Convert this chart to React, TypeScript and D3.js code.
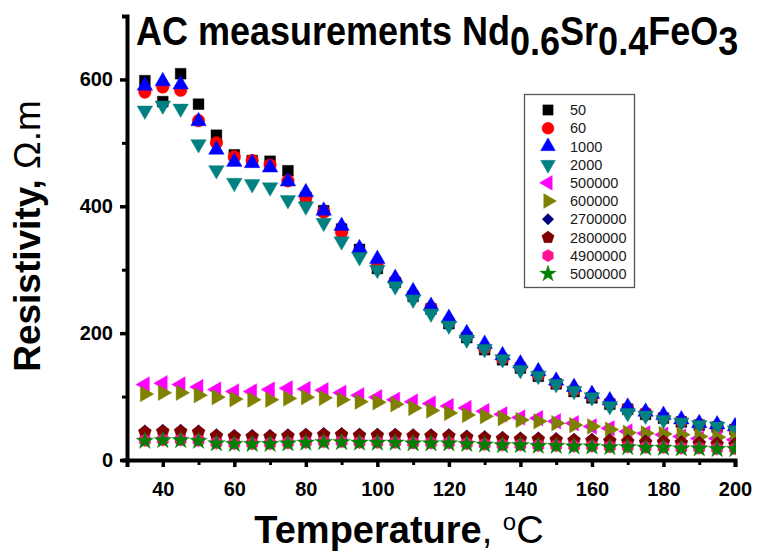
import React, { useEffect, useRef } from "react";
import * as d3 from "d3";

const temperatures = [35, 40, 45, 50, 55, 60, 65, 70, 75, 80, 85, 90, 95, 100, 105, 110, 115, 120, 125, 130, 135, 140, 145, 150, 155, 160, 165, 170, 175, 180, 185, 190, 195, 200];

const seriesNames = ["50", "60", "1000", "2000", "500000", "600000", "2700000", "2800000", "4900000", "5000000"];
const seriesColors = ["#000000", "#ff0000", "#0000ff", "#008080", "#ff00ff", "#808000", "#000080", "#800000", "#ff1493", "#008000"];
const seriesShapes = ["square", "circle", "up", "down", "left", "right", "diamond", "pentagon", "hexagon", "star"];

const r50 = [598, 565, 609, 561, 512, 481, 472, 471, 456, 414, 393, 364, 332, 302, 280, 258, 238, 215, 193, 174, 158, 145, 132, 120, 108, 98, 88, 80, 72, 66, 60, 55, 52, 48];
const r60 = [580, 588, 583, 535, 500, 478, 472, 465, 440, 414, 391, 359, 328, 305, 282, 260, 240, 217, 195, 176, 160, 146, 134, 121, 110, 100, 90, 81, 74, 67, 61, 56, 53, 49];
const r1000 = [590, 597, 592, 534, 489, 470, 468, 461, 439, 422, 393, 369, 334, 317, 287, 266, 243, 224, 200, 183, 165, 152, 140, 125, 115, 104, 94, 84, 76, 71, 64, 58, 56, 53];
const r2000 = [551, 559, 554, 498, 457, 437, 435, 430, 410, 400, 374, 345, 320, 300, 274, 253, 231, 212, 190, 175, 159, 142, 133, 120, 109, 99, 85, 74, 70, 63, 59, 55, 53, 47];
const r500000 = [119, 121, 119, 115, 111, 108, 108, 111, 113, 112, 110, 106, 102, 99, 95, 92, 89, 85, 82, 77, 72, 67, 66, 61, 58, 53, 50, 45, 42, 40, 37, 34, 34, 32];
const r600000 = [104, 106, 106, 102, 99, 96, 95, 95, 97, 99, 98, 95, 92, 91, 88, 82, 78, 74, 71, 69, 66, 63, 61, 58, 55, 53, 48, 43, 42, 41, 40, 37, 36, 34];
const r2700000 = [46, 47, 47, 46, 40, 39, 39, 39, 40, 41, 42, 42, 41, 41, 41, 40, 40, 40, 38, 37, 36, 35, 35, 34, 33, 33, 32, 31, 30, 30, 29, 28, 27, 26];
const r2800000 = [44, 45, 45, 44, 38, 37, 37, 37, 38, 39, 40, 40, 39, 39, 39, 38, 38, 38, 36, 35, 34, 33, 33, 32, 31, 31, 30, 29, 28, 28, 27, 26, 25, 24];
const r4900000 = [31, 32, 32, 31, 27, 26, 26, 26, 27, 28, 29, 29, 28, 28, 28, 27, 27, 27, 26, 25, 24, 24, 23, 23, 22, 22, 21, 21, 20, 20, 19, 19, 18, 18];
const r5000000 = [30, 31, 31, 30, 26, 25, 25, 25, 26, 27, 28, 28, 27, 27, 27, 26, 26, 26, 25, 24, 23, 23, 22, 22, 21, 21, 20, 20, 19, 19, 18, 18, 17, 17];

const seriesValues = [r50, r60, r1000, r2000, r500000, r600000, r2700000, r2800000, r4900000, r5000000];

const xMajorTicks = [40, 60, 80, 100, 120, 140, 160, 180, 200];
const xMinorTicks = [30, 50, 70, 90, 110, 130, 150, 170, 190];
const yMajorTicks = [0, 200, 400, 600];
const yMinorTicks = [100, 300, 500];

const W = 767;
const H = 552;
const M = { left: 127, right: 735, top: 16, bottom: 460 };

function polygonPath(n: number, r: number, startAngle: number) {
  const pts: [number, number][] = [];
  for (let i = 0; i < n; i++) {
    const a = startAngle + (i * 2 * Math.PI) / n;
    pts.push([r * Math.cos(a), r * Math.sin(a)]);
  }
  return "M" + pts.map((p) => p[0].toFixed(2) + "," + p[1].toFixed(2)).join("L") + "Z";
}

function markerPath(shape: string): { d: string; rot: number } {
  switch (shape) {
    case "square":
      return { d: d3.symbol().type(d3.symbolSquare).size(118)()!, rot: 0 };
    case "circle":
      return { d: d3.symbol().type(d3.symbolCircle).size(125)()!, rot: 0 };
    case "up":
      return { d: d3.symbol().type(d3.symbolTriangle).size(105)()!, rot: 0 };
    case "down":
      return { d: d3.symbol().type(d3.symbolTriangle).size(105)()!, rot: 180 };
    case "left":
      return { d: d3.symbol().type(d3.symbolTriangle).size(105)()!, rot: -90 };
    case "right":
      return { d: d3.symbol().type(d3.symbolTriangle).size(105)()!, rot: 90 };
    case "diamond":
      return { d: d3.symbol().type(d3.symbolDiamond2).size(95)()!, rot: 0 };
    case "pentagon":
      return { d: polygonPath(5, 6.8, -Math.PI / 2), rot: 0 };
    case "hexagon":
      return { d: polygonPath(6, 6.5, -Math.PI / 2), rot: 0 };
    default:
      return { d: d3.symbol().type(d3.symbolStar).size(95)()!, rot: 0 };
  }
}

export default function App() {
  const ref = useRef<SVGSVGElement | null>(null);

  useEffect(() => {
    const svg = d3.select(ref.current);
    svg.selectAll("*").remove();

    const x = d3.scaleLinear().domain([30, 200]).range([M.left, M.right]);
    const y = d3.scaleLinear().domain([0, 700]).range([M.bottom, M.top]);

    svg.append("rect").attr("width", W).attr("height", H).attr("fill", "#ffffff");

    const defs = svg.append("defs");
    defs.append("clipPath").attr("id", "plotclip")
      .append("rect").attr("x", M.left).attr("y", M.top - 10).attr("width", M.right - M.left + 1).attr("height", M.bottom - M.top + 10);

    // data
    const gData = svg.append("g").attr("clip-path", "url(#plotclip)");
    seriesNames.forEach((name, si) => {
      const mk = markerPath(seriesShapes[si]);
      const vals = seriesValues[si];
      gData.append("g").selectAll("path").data(temperatures).enter().append("path")
        .attr("d", mk.d)
        .attr("transform", (t, i) => `translate(${x(t)},${y(vals[i])}) rotate(${mk.rot})`)
        .attr("fill", seriesColors[si])
        .attr("stroke", seriesColors[si])
        .attr("stroke-width", 0.4);
    });

    const font = "Arial, 'Liberation Sans', Helvetica, sans-serif";

    // x axis
    const xAxis = svg.append("g").attr("transform", `translate(0,${M.bottom})`)
      .call(d3.axisBottom(x).tickValues(xMajorTicks).tickSize(7).tickSizeOuter(7).tickPadding(15).tickFormat(d3.format("d")));
    xAxis.select(".domain").attr("stroke", "#000").attr("stroke-width", 4);
    xAxis.selectAll(".tick line").attr("stroke", "#000").attr("stroke-width", 3.5);
    xAxis.selectAll(".tick text").attr("font-family", font).attr("font-size", 20).attr("font-weight", "bold").attr("fill", "#000");
    const xMinor = svg.append("g").attr("transform", `translate(0,${M.bottom})`)
      .call(d3.axisBottom(x).tickValues(xMinorTicks).tickSize(5).tickFormat(() => ""));
    xMinor.select(".domain").remove();
    xMinor.selectAll(".tick line").attr("stroke", "#000").attr("stroke-width", 3);

    // y axis
    const yAxis = svg.append("g").attr("transform", `translate(${M.left},0)`)
      .call(d3.axisLeft(y).tickValues(yMajorTicks).tickSize(7).tickSizeOuter(5).tickPadding(7).tickFormat(d3.format("d")));
    yAxis.select(".domain").attr("stroke", "#000").attr("stroke-width", 4);
    yAxis.selectAll(".tick line").attr("stroke", "#000").attr("stroke-width", 3.5);
    yAxis.selectAll(".tick text").attr("font-family", font).attr("font-size", 20).attr("font-weight", "bold").attr("fill", "#000");
    const yMinor = svg.append("g").attr("transform", `translate(${M.left},0)`)
      .call(d3.axisLeft(y).tickValues(yMinorTicks).tickSize(5).tickFormat(() => ""));
    yMinor.select(".domain").remove();
    yMinor.selectAll(".tick line").attr("stroke", "#000").attr("stroke-width", 3);

    // title (condensed bold)
    const title = svg.append("text").attr("transform", "translate(136,45) scale(0.9,1)")
      .attr("font-family", font)
      .attr("font-size", 40).attr("font-weight", "bold").attr("fill", "#000");
    title.append("tspan").text("AC measurements Nd");
    title.append("tspan").attr("dy", 10).text("0.6");
    title.append("tspan").attr("dy", -10).text("Sr");
    title.append("tspan").attr("dy", 10).text("0.4");
    title.append("tspan").attr("dy", -10).text("FeO");
    title.append("tspan").attr("dy", 10).text("3");

    // x label
    const xl = svg.append("text").attr("x", 399).attr("y", 543).attr("text-anchor", "middle")
      .attr("font-family", font).attr("font-size", 38).attr("fill", "#000");
    xl.append("tspan").attr("font-weight", "bold").text("Temperature");
    xl.append("tspan").text(", ");
    xl.append("tspan").attr("font-size", 24).attr("dy", -13).text("o");
    xl.append("tspan").attr("dy", 13).text("C");

    // y label
    const yl = svg.append("text").attr("transform", `translate(40,${236}) rotate(-90)`).attr("text-anchor", "middle")
      .attr("font-family", font).attr("font-size", 37).attr("fill", "#000");
    yl.append("tspan").attr("font-weight", "bold").text("Resistivity,");
    yl.append("tspan").text(" \u03A9.m");

    // legend
    const lg = svg.append("g");
    lg.append("rect").attr("x", 524.5).attr("y", 94.5).attr("width", 110).attr("height", 193)
      .attr("fill", "#fff").attr("stroke", "#555").attr("stroke-width", 1.3);
    seriesNames.forEach((name, si) => {
      const cy = 110 + si * 18.2;
      const mk = markerPath(seriesShapes[si]);
      lg.append("path").attr("d", mk.d)
        .attr("transform", `translate(548,${cy}) rotate(${mk.rot}) scale(0.95)`)
        .attr("fill", seriesColors[si]).attr("stroke", seriesColors[si]).attr("stroke-width", 0.4);
      lg.append("text").attr("x", 570).attr("y", cy).attr("dy", "0.36em")
        .attr("font-family", font).attr("font-size", 14.5).attr("fill", "#1a1a1a").text(name);
    });
  }, []);

  return (
    <svg ref={ref} width={W} height={H} style={{ position: "absolute", left: 0, top: 0, display: "block" }} />
  );
}
